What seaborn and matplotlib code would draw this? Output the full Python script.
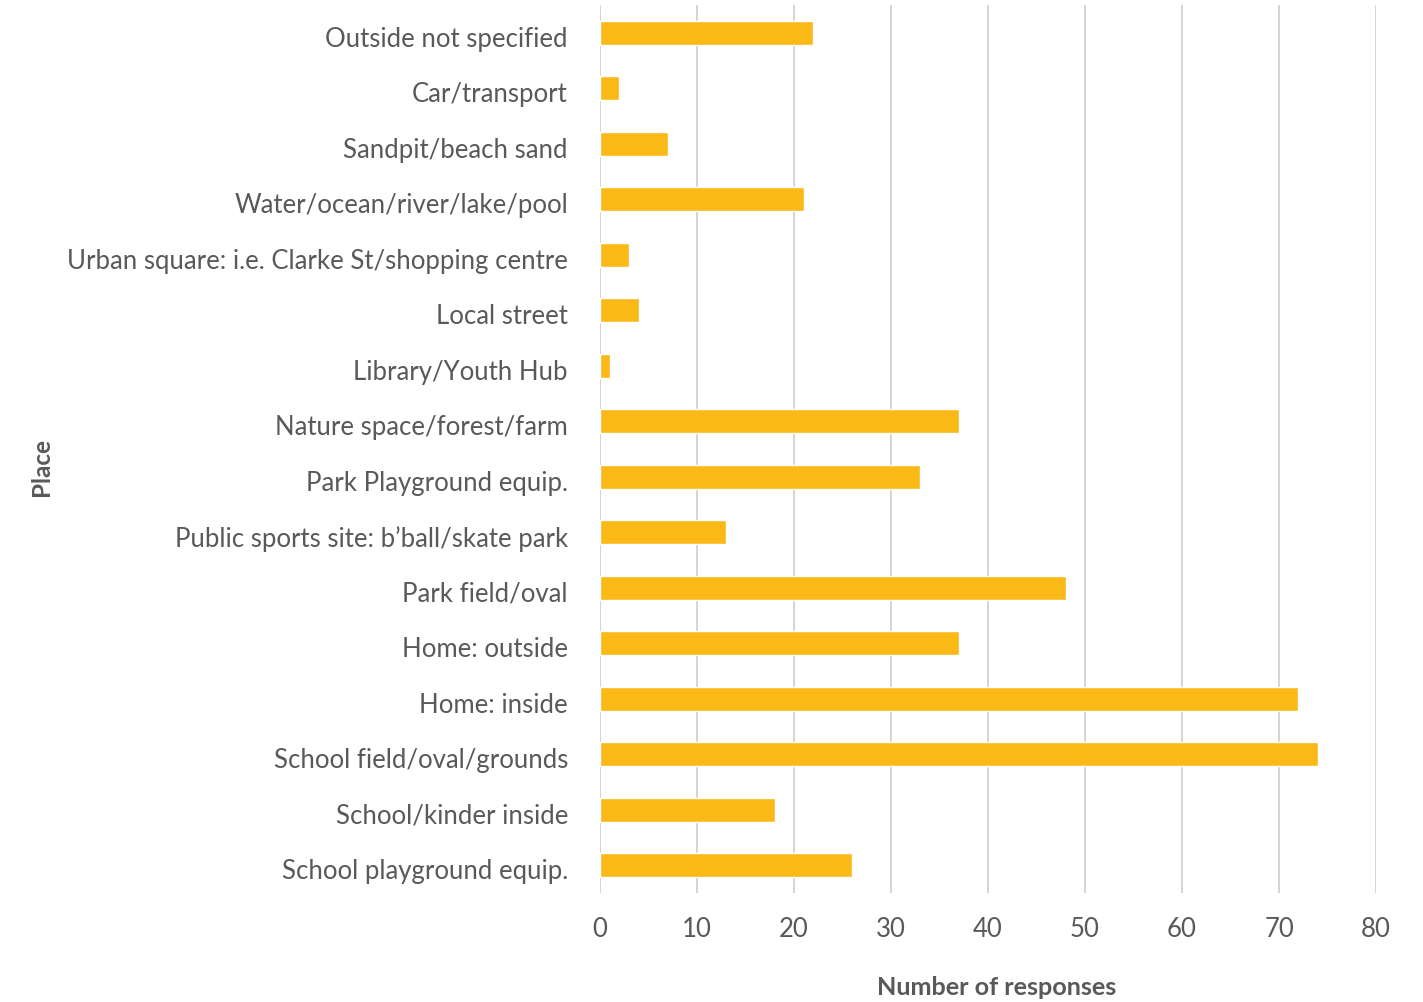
import matplotlib
matplotlib.use("Agg")
import matplotlib.pyplot as plt
import matplotlib.transforms as mtransforms
import seaborn as sns
import pandas as pd

places = [
    "Outside not specified",
    "Car/transport",
    "Sandpit/beach sand",
    "Water/ocean/river/lake/pool",
    "Urban square: i.e. Clarke St/shopping centre",
    "Local street",
    "Library/Youth Hub",
    "Nature space/forest/farm",
    "Park Playground equip.",
    "Public sports site: b\u2019ball/skate park",
    "Park field/oval",
    "Home: outside",
    "Home: inside",
    "School field/oval/grounds",
    "School/kinder inside",
    "School playground equip.",
]
responses = [22, 2, 7, 21, 3, 4, 1, 37, 33, 13, 48, 37, 72, 74, 18, 26]
x_ticks = [0, 10, 20, 30, 40, 50, 60, 70, 80]

df = pd.DataFrame({"Place": places, "Number of responses": responses})

sns.set_theme(style="white")
plt.rcParams["font.family"] = ["Lato", "DejaVu Sans"]

text_color = "#595959"
fig = plt.figure(figsize=(14.23, 10.02), dpi=100)
ax = fig.add_axes([0.4216, 0.1088, 0.5454, 0.8862])

sns.barplot(data=df, y="Place", x="Number of responses", orient="h",
            color="#FBB917", saturation=1, width=0.43, ax=ax, zorder=3)

ax.set_xlim(0, 80)
ax.set_xticks(x_ticks)
ax.set_ylim(len(places) - 0.5, -0.5)
ax.xaxis.grid(True, color="#d4d4d4", linewidth=1.4, zorder=0)
ax.yaxis.grid(False)
ax.set_axisbelow(True)
for s in ax.spines.values():
    s.set_visible(False)

ax.tick_params(axis="y", length=0, pad=23, labelsize=18.5, labelcolor=text_color)
ax.tick_params(axis="x", length=0, pad=17, labelsize=18.5, labelcolor=text_color)

# nudge category labels slightly downward
shift = mtransforms.ScaledTranslation(0, -4 / 100, fig.dpi_scale_trans)
for lab in ax.get_yticklabels():
    lab.set_transform(lab.get_transform() + shift)

ax.set_xlabel("Number of responses", fontsize=18.2, fontweight="bold", color=text_color)
ax.set_ylabel("Place", fontsize=17.5, fontweight="bold", color=text_color)
ax.xaxis.label.set_va("center")
ax.yaxis.label.set_va("center")
ax.xaxis.set_label_coords(0.511, -0.106)
ax.yaxis.set_label_coords(-0.720, 0.48)

fig.savefig("out.png", dpi=100)
